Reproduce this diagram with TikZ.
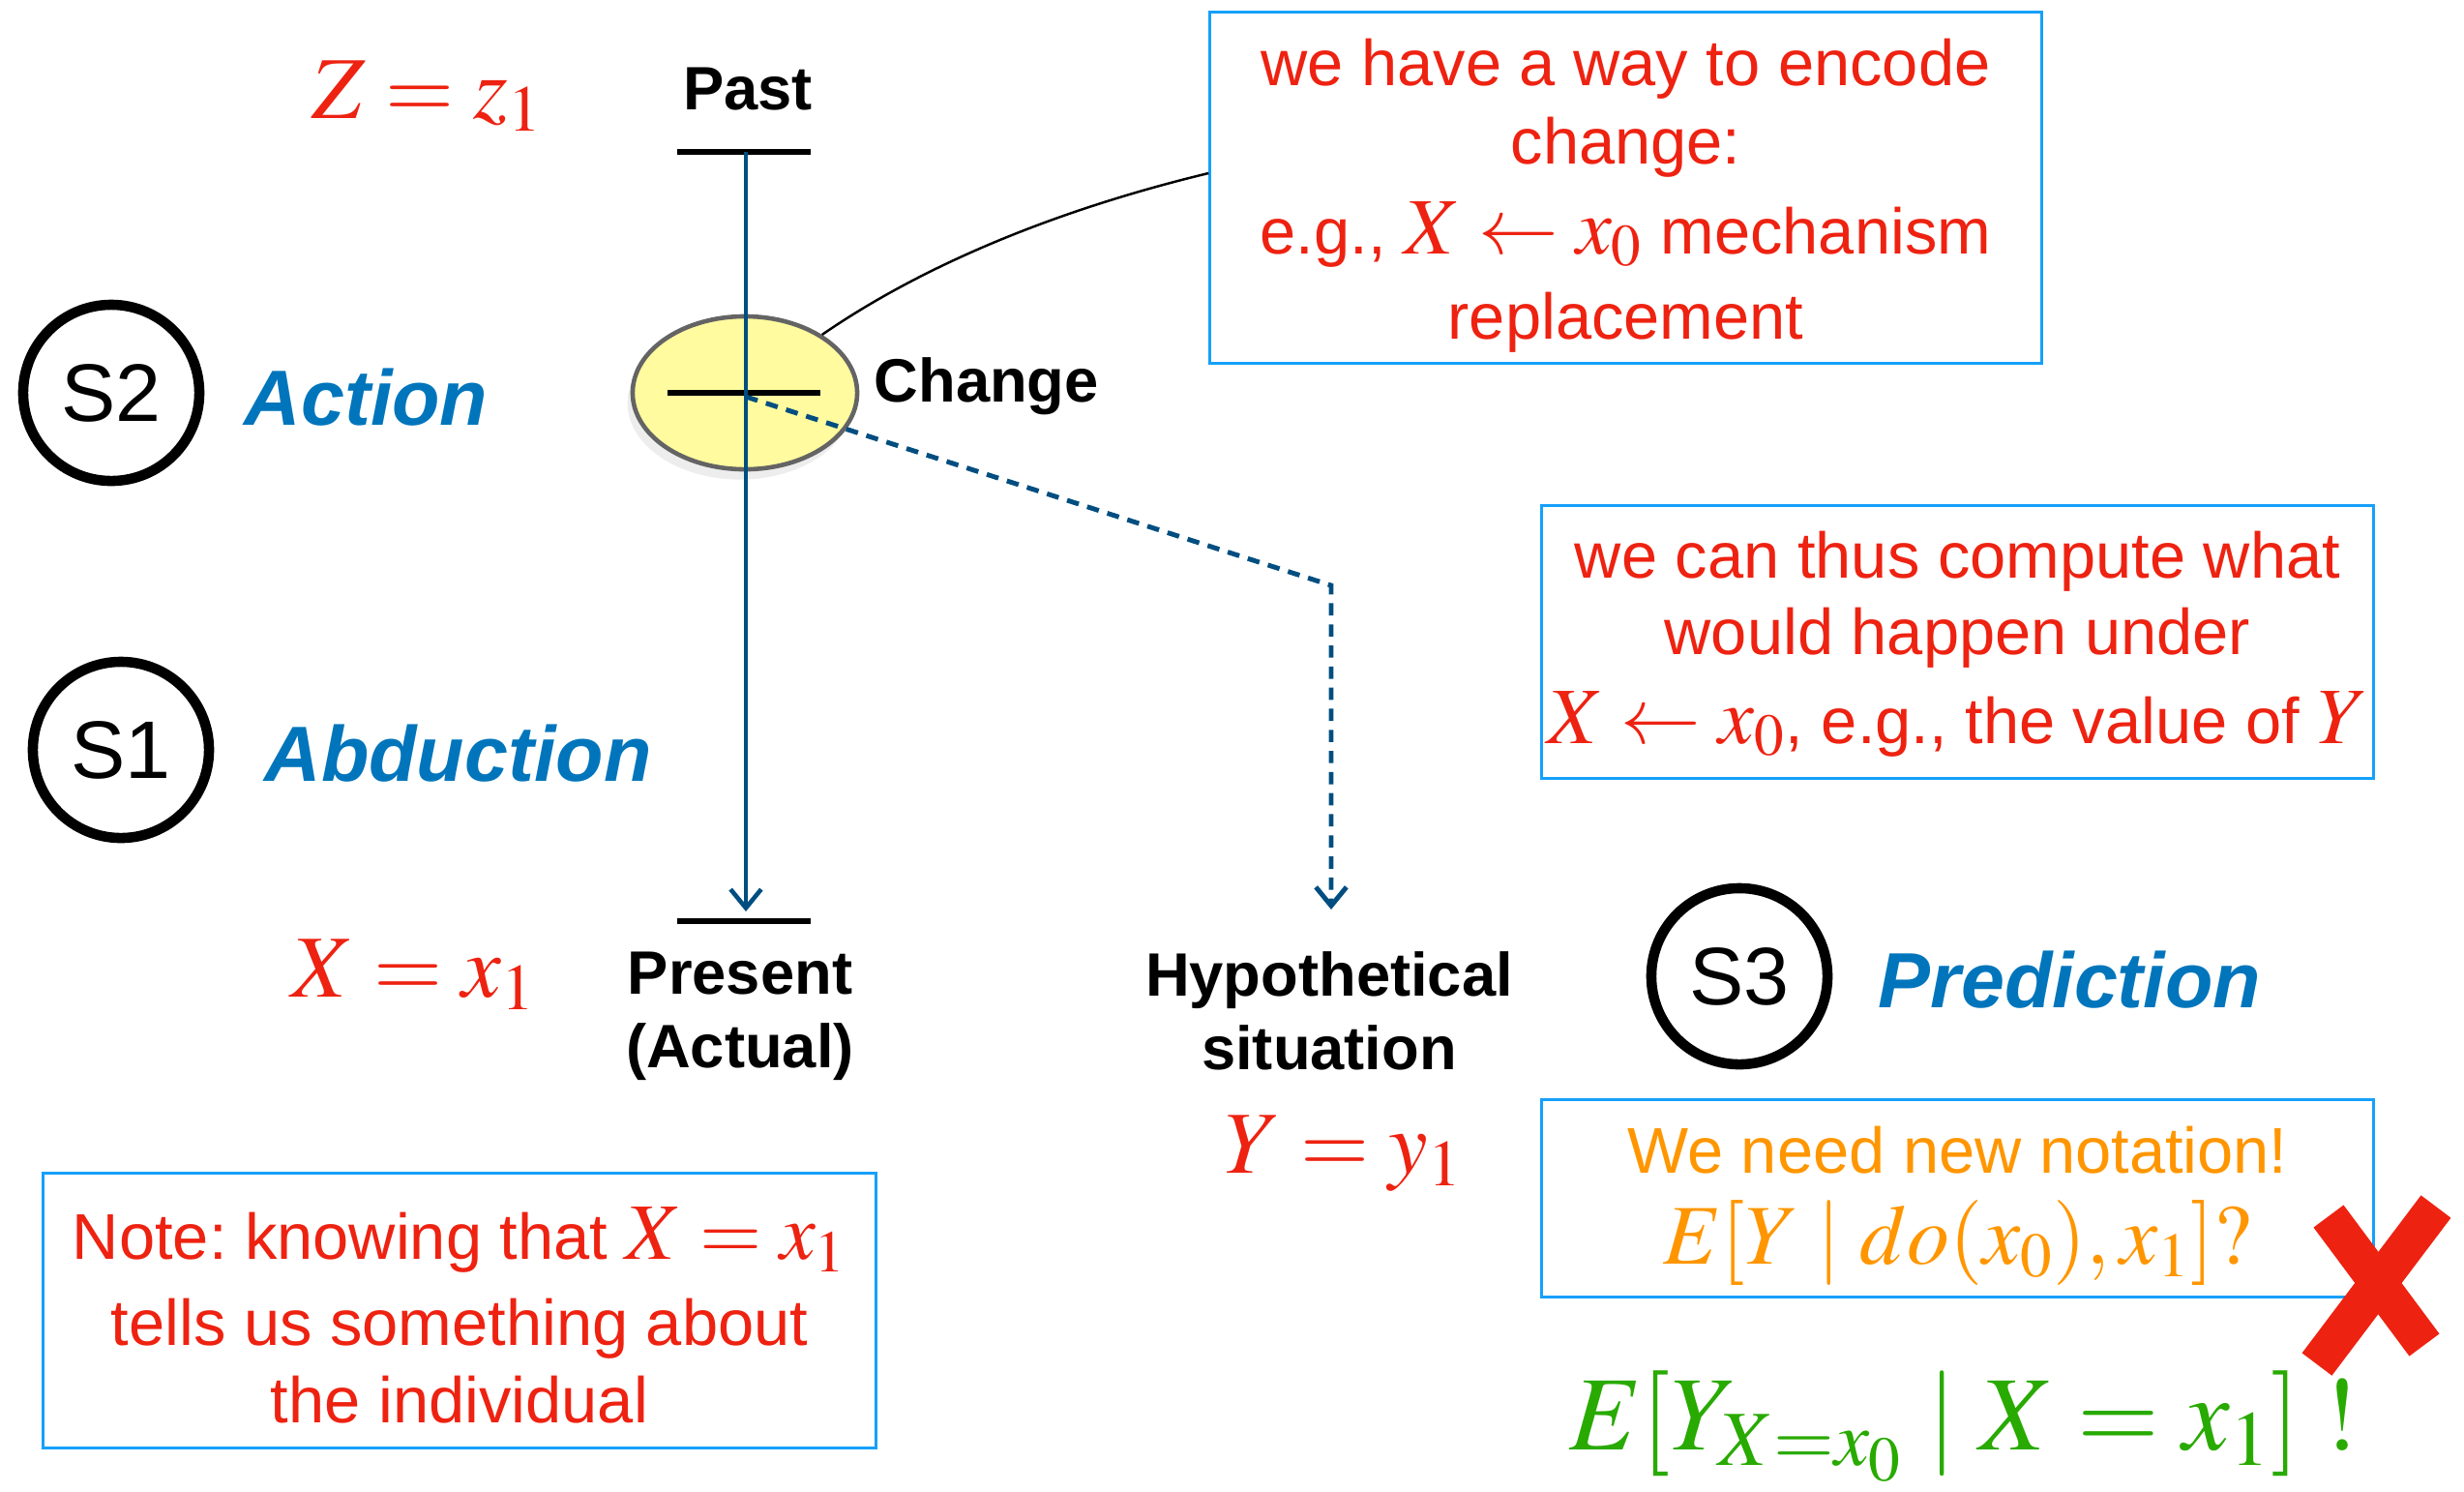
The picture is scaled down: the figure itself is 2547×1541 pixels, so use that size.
\documentclass[tikz,border=0pt]{standalone}
\usepackage{mathptmx}
\usepackage{fontspec}
\setmainfont{Liberation Serif}
\setsansfont{Liberation Sans}
\usetikzlibrary{arrows.meta,shapes.geometric,shadows,calc}
\definecolor{redT}{RGB}{238,34,17}
\definecolor{blueT}{RGB}{0,117,188}
\definecolor{lineblue}{RGB}{0,78,128}
\definecolor{boxblue}{RGB}{22,160,250}
\definecolor{orangeT}{RGB}{255,150,0}
\definecolor{greenT}{RGB}{40,170,0}
\definecolor{ellfill}{RGB}{255,251,158}
\frenchspacing
\newcommand\mth[1]{{\fontsize{23.5}{25}\selectfont$#1$}}
\tikzset{
  lbl/.style={font=\fontsize{18}{21.6}\selectfont\sffamily\bfseries, inner sep=0, align=center},
  stepname/.style={font=\fontsize{23}{26}\selectfont\sffamily\bfseries\itshape, text=blueT, inner sep=0, anchor=base west},
  snum/.style={circle, draw, line width=3pt, minimum size=1.82cm, inner sep=0, font=\fontsize{24}{26}\selectfont\sffamily},
  notebox/.style={draw=boxblue, line width=0.85pt, inner sep=0},
  boxtext/.style={inner sep=0, align=center, text=redT, font=\fontsize{19}{22.5}\selectfont\sffamily},
  eqn/.style={text=redT, inner sep=0, anchor=base, font=\fontsize{26}{28}\selectfont},
  bar/.style={line width=1.5pt, black},
  tl/.style={line width=1.3pt, lineblue},
}
\begin{document}
\begin{tikzpicture}[x=0.01cm,y=-0.01cm]
\useasboundingbox (0,0) rectangle (2547,1541);

% equations
\node[eqn] (zeq) at (442,122) {$Z = z_1$};
\node[eqn] (xeq) at (428,1030) {$X = x_1$};
\node[eqn] (yeq) at (1389,1212) {$Y = y_1$};

% timeline
\node[lbl, anchor=base] (past) at (773,113) {Past};
\coordinate (pastL) at (700,157);
\coordinate (pastR) at (838,157);
\coordinate (pastC) at (771,157);
\coordinate (presL) at (700,952);
\coordinate (presR) at (838,952);
\coordinate (tipA) at (771,942);
\draw[bar] (pastL) -- (pastR);
\draw[bar] (presL) -- (presR);

\node[ellipse, draw={rgb,255:red,100;green,100;blue,100}, line width=1.3pt, fill=ellfill,
      minimum width=2.32cm, minimum height=1.58cm,
      drop shadow={shadow xshift=-1.5pt, shadow yshift=-3pt, opacity=0.07, fill=black}] (chg) at (770,406) {};
\coordinate (chL) at (690,406);
\coordinate (chR) at (848,406);
\draw[bar] (chL) -- (chR);
\node[lbl, anchor=base west] (change) at (903,415) {Change};

\draw[tl, -{Straight Barb[length=5.5pt,width=9pt,line width=1.3pt]}] (pastC) -- (tipA);

\coordinate (dstart) at (771,410);
\coordinate (dcorner) at (1376,605);
\coordinate (tipB) at (1376,940);
\draw[tl, line width=1.4pt, dash pattern=on 3.6pt off 2.6pt, -{Straight Barb[length=5.5pt,width=9pt]}]
  (dstart) -- (dcorner) -- (tipB);

\node[lbl, anchor=north] (present) at (765,983) {Present\\(Actual)};
\node[lbl, anchor=north] (hypo) at (1374,983) {Hypothetical\\situation};

% step circles
\node[snum] (s2) at (115,406) {S2};
\node[stepname] (action) at (252,439) {Action};
\node[snum] (s1) at (125,775) {S1};
\node[stepname] (abduction) at (273,807) {Abduction};
\node[snum] (s3) at (1798,1009) {S3};
\node[stepname] (prediction) at (1941,1041) {Prediction};

% boxes
\node[notebox, minimum width=8.59cm, minimum height=3.62cm] (b1) at (1680.5,194) {};
\node[boxtext] (b1t) at ($(b1.center)+(0,8)$)
  {we have a way to encode\\[0.5pt] change:\\[4pt] e.g., \mth{X\leftarrow x_0} mechanism\\[2.5pt] replacement};
\draw[black, line width=0.7pt] (chg.37) .. controls (960,270) and (1100,215) .. ($(b1.west)+(0,-15)$);

\node[notebox, minimum width=8.59cm, minimum height=2.81cm] (b2) at (2023.5,663.5) {};
\node[boxtext] (b2t) at ($(b2.center)+(0,2)$)
  {we can thus compute what\\ would happen under\\[3.5pt] \mth{X\leftarrow x_0}, e.g., the value of \mth{Y}};

\node[notebox, minimum width=8.59cm, minimum height=2.03cm] (b3) at (2023.5,1238.5) {};
\node[boxtext, text=orangeT] (b3t) at ($(b3.center)+(0,8)$)
  {We need new notation!\\[4.2pt] {\fontsize{25}{26}\selectfont$E[Y\mid do(x_0), x_1]?$}};

\node[notebox, minimum width=8.60cm, minimum height=2.83cm] (b4) at (475,1354.5) {};
\node[boxtext] (b4t) at ($(b4.center)+(0,5)$)
  {Note: knowing that \mth{X = x_1}\\[2.8pt] tells us something about\\ the individual};

% final formula
\node[text=greenT, inner sep=0, anchor=base, font=\fontsize{31}{33}\selectfont] (geq) at (2030,1498)
  {$E[Y_{X=x_0}\mid X = x_1]\;!$};

% red cross
\coordinate (xa1) at (2407,1257);
\coordinate (xa2) at (2506,1390);
\coordinate (xb1) at (2518,1247);
\coordinate (xb2) at (2395,1410);
\draw[redT, line width=11pt] (xa1) -- (xa2);
\draw[redT, line width=11pt] (xb1) -- (xb2);
\end{tikzpicture}
\end{document}
